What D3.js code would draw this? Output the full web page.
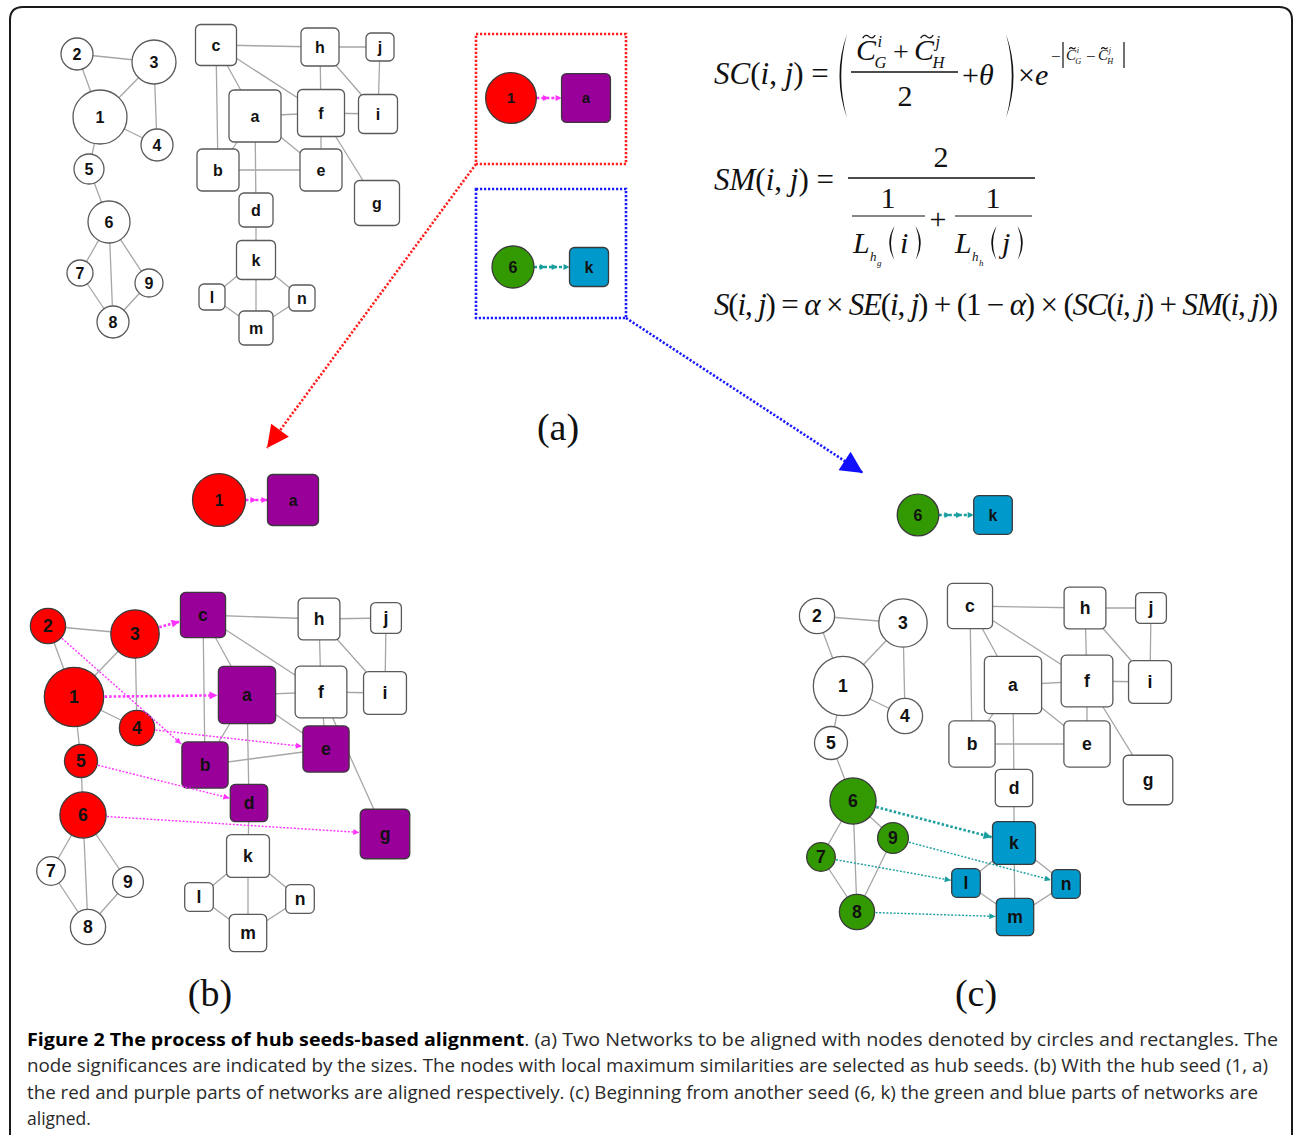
<!DOCTYPE html>
<html>
<head>
<meta charset="utf-8">
<script src="https://cdn.jsdelivr.net/npm/d3@7"></script>
<style>
  body { margin: 0; background: #fff; }
  svg { display: block; }
</style>
</head>
<body>
<svg id="fig" width="1293" height="1135"></svg>
<script>
// ---------- network data ----------
// network G: circular nodes, significance drives the radius
const circleIds = ["1", "2", "3", "4", "5", "6", "7", "8", "9"];
const circleSig = [27, 16, 22, 16, 15, 21, 13, 16, 14];
// network H: square nodes, significance drives the side length
const squareIds = ["a", "b", "c", "d", "e", "f", "g", "h", "i", "j", "k", "l", "m", "n"];
const squareSig = [52, 42, 41, 34, 42, 47, 45, 38, 39, 28, 39, 26, 34, 26];

const circleLinks = [["2","3"],["2","1"],["3","1"],["3","4"],["1","4"],["1","5"],
                     ["5","6"],["6","7"],["6","8"],["6","9"],["7","8"],["9","8"]];
const squareLinks = [["c","h"],["h","j"],["c","b"],["c","a"],["c","f"],["h","f"],["h","i"],
                     ["j","i"],["a","f"],["f","i"],["a","b"],["a","e"],["f","e"],["f","g"],
                     ["b","e"],["a","d"],["d","k"],["k","l"],["k","m"],["k","n"],["l","m"],["n","m"]];

// hub seeds and the alignments grown from them
const seedB = ["1", "a"];
const seedC = ["6", "k"];
const alignB = [["1","a"],["3","c"],["2","b"],["4","e"],["5","d"],["6","g"]];
const alignC = [["6","k"],["9","n"],["7","l"],["8","m"]];
const heavyAlign = ["1-a", "3-c", "6-k"];

// ---------- layouts (panel-local coordinates) ----------
const layoutA = [
  ["1",40,97],["2",17,34],["3",94,42],["4",97,125],["5",29,149],["6",49,202],["7",20,253],["8",53,302],["9",89,263],
  ["a",195,96],["b",158,150],["c",156,25],["d",196,190],["e",261,150],["f",261,93],["g",317,183],
  ["h",260,27],["i",318,94],["j",320,27],["k",196,240],["l",152,277],["m",196,308],["n",242,278]
];
const layoutB = [
  ["1",54,107],["2",28,36],["3",115,44],["4",117,138],["5",61,171],["6",63,225],["7",31,281],["8",68,337],["9",108,292],
  ["a",227,105],["b",185,175],["c",183,25],["d",229,213],["e",306,159],["f",301,102],["g",365,244],
  ["h",299,29],["i",365,103],["j",366,28],["k",228,266],["l",179,307],["m",228,343],["n",280,309]
];
const layoutC = [
  ["1",53,106],["2",27,36],["3",113,43],["4",115,136],["5",41,163],["6",63,221],["7",31,277],["8",67,332],["9",103,258],
  ["a",223,105],["b",182,164],["c",180,26],["d",224,208],["e",297,164],["f",297,101],["g",358,200],
  ["h",295,28],["i",360,102],["j",361,28],["k",224,263],["l",176,303],["m",225,337],["n",276,304]
];

// ---------- styling ----------
const COL = { red: "#ff0000", purple: "#990099", green: "#339900", blue: "#0099cc",
              pink: "#ff33ff", teal: "#1a9e9e", edge: "#a6a6a6", stroke: "#5a5a5a" };
const serif = "'Liberation Serif','Times New Roman',serif";
const sansBold = "'Liberation Sans',Arial,sans-serif";

const svg = d3.select("#fig");
const defs = svg.append("defs");

function marker(id, color, w, h) {
  defs.append("marker")
    .attr("id", id).attr("viewBox", "0 0 10 10")
    .attr("refX", 10).attr("refY", 5)
    .attr("markerWidth", w).attr("markerHeight", h)
    .attr("markerUnits", "userSpaceOnUse").attr("orient", "auto")
    .append("path").attr("d", "M0,0L10,5L0,10Z").attr("fill", color);
}
marker("arPink", COL.pink, 10, 8);
marker("arPinkS", COL.pink, 7, 6);
marker("arTeal", COL.teal, 10, 8);
marker("arTealS", COL.teal, 7, 6);
marker("arRed", COL.red, 24, 22);
marker("arBlue", "#1010ff", 24, 22);

// outer frame
svg.append("path")
  .attr("d", "M10,1135 V20 Q10,7 23,7 H1279 Q1292,7 1292,20 V1135")
  .attr("fill", "none").attr("stroke", "#1a1a1a").attr("stroke-width", 2);

const sigOf = new Map();
circleIds.forEach((id, i) => sigOf.set(id, { shape: "circle", sig: circleSig[i] }));
squareIds.forEach((id, i) => sigOf.set(id, { shape: "square", sig: squareSig[i] }));

// boundary point of a node (centre p, size s) in the direction of point q
function boundary(p, q, shape, s, gap) {
  const dx = q[0] - p[0], dy = q[1] - p[1];
  const L = Math.hypot(dx, dy), ux = dx / L, uy = dy / L;
  let t;
  if (shape === "circle") t = s;
  else t = (s / 2) / Math.max(Math.abs(ux), Math.abs(uy));
  t += gap;
  return [p[0] + ux * t, p[1] + uy * t];
}

function drawNodes(g, nodes, labelSize) {
  nodes.filter(d => d.shape === "circle").forEach(d => {
    g.append("circle").attr("cx", d.x).attr("cy", d.y).attr("r", d.size)
      .attr("fill", d.fill || "#fff")
      .attr("stroke", d.fill ? "#3a3a3a" : COL.stroke).attr("stroke-width", 1.3);
  });
  nodes.filter(d => d.shape === "square").forEach(d => {
    g.append("rect").attr("x", d.x - d.size / 2).attr("y", d.y - d.size / 2)
      .attr("width", d.size).attr("height", d.size).attr("rx", 5)
      .attr("fill", d.fill || "#fff")
      .attr("stroke", d.fill ? "#3a3a3a" : COL.stroke).attr("stroke-width", 1.3);
  });
  nodes.forEach(d => {
    g.append("text").attr("x", d.x).attr("y", d.y)
      .attr("text-anchor", "middle").attr("dy", "0.36em")
      .attr("font-family", sansBold).attr("font-weight", "bold")
      .attr("font-size", labelSize).attr("fill", "#111").text(d.id);
  });
}

// full network panel
function drawPanel(layout, origin, factor, colour, align, alignColour) {
  const g = svg.append("g");
  const x = d3.scaleLinear().domain([0, 400]).range([origin[0], origin[0] + 400]);
  const y = d3.scaleLinear().domain([0, 400]).range([origin[1], origin[1] + 400]);
  const size = d3.scaleLinear().domain([0, 60]).range([0, 60 * factor]);
  const nodes = layout.map(([id, lx, ly]) => {
    const info = sigOf.get(id);
    return { id, x: x(lx), y: y(ly), shape: info.shape,
             size: size(info.sig), fill: colour ? colour(id) : null };
  });
  const byId = new Map(nodes.map(d => [d.id, d]));
  circleLinks.concat(squareLinks).forEach(([s, t]) => {
    const a = byId.get(s), b = byId.get(t);
    g.append("line").attr("x1", a.x).attr("y1", a.y).attr("x2", b.x).attr("y2", b.y)
      .attr("stroke", COL.edge).attr("stroke-width", 1.3);
  });
  drawNodes(g, nodes, 16 * factor);
  if (align) {
    align.forEach(([s, t]) => {
      const a = byId.get(s), b = byId.get(t);
      const heavy = heavyAlign.includes(s + "-" + t);
      const p0 = boundary([a.x, a.y], [b.x, b.y], "circle", a.size, 1);
      const p1 = boundary([b.x, b.y], [a.x, a.y], "square", b.size, 1);
      const mk = alignColour === COL.pink ? (heavy ? "arPink" : "arPinkS") : (heavy ? "arTeal" : "arTealS");
      g.append("line").attr("x1", p0[0]).attr("y1", p0[1]).attr("x2", p1[0]).attr("y2", p1[1])
        .attr("stroke", alignColour).attr("stroke-width", heavy ? 2.6 : 1.4)
        .attr("stroke-dasharray", heavy ? "2.5,2" : "2,1.6")
        .attr("marker-end", `url(#${mk})`);
    });
  }
  return g;
}

// seed pair: circle node, square node and an arrowed dashed link
function drawSeed(pair, centres, factor, fills, linkColour, markerId) {
  const g = svg.append("g");
  const size = d3.scaleLinear().domain([0, 60]).range([0, 60 * factor]);
  const nodes = pair.map((id, i) => ({ id, x: centres[i][0], y: centres[i][1],
    shape: sigOf.get(id).shape, size: size(sigOf.get(id).sig), fill: fills[i] }));
  const [a, b] = nodes;
  const p0 = boundary([a.x, a.y], [b.x, b.y], "circle", a.size, 0);
  const p1 = boundary([b.x, b.y], [a.x, a.y], "square", b.size, 0);
  const n = Math.max(1, Math.round((p1[0] - p0[0]) / 11));
  const pts = d3.range(n + 1).map(i => [p0[0] + (p1[0] - p0[0]) * i / n, p0[1]]);
  g.append("path").attr("d", d3.line()(pts)).attr("fill", "none")
    .attr("stroke", linkColour).attr("stroke-width", 2.6).attr("stroke-dasharray", "3,2")
    .attr("marker-mid", `url(#${markerId})`).attr("marker-end", `url(#${markerId})`);
  drawNodes(g, nodes, 16 * factor);
}

// ---------- panel (a): the two networks ----------
drawPanel(layoutA, [60, 20], 1.0, null, null, null);

// hub seed boxes
const hubBoxes = [
  { rect: [476, 34, 150, 130], colour: "#ff2020", seed: seedB, centres: [[511, 98], [586, 98]],
    fills: [COL.red, COL.purple], link: COL.pink, mk: "arPinkS",
    pointer: [[476, 164], [267, 448]], arrow: "arRed" },
  { rect: [476, 189, 150, 129], colour: "#1a1aff", seed: seedC, centres: [[513, 267], [589, 267]],
    fills: [COL.green, COL.blue], link: COL.teal, mk: "arTealS",
    pointer: [[626, 318], [863, 473]], arrow: "arBlue" }
];
hubBoxes.forEach(b => {
  svg.append("rect").attr("x", b.rect[0]).attr("y", b.rect[1])
    .attr("width", b.rect[2]).attr("height", b.rect[3])
    .attr("fill", "none").attr("stroke", b.colour).attr("stroke-width", 2.6)
    .attr("stroke-dasharray", "2.2,1.8");
  svg.append("line").attr("x1", b.pointer[0][0]).attr("y1", b.pointer[0][1])
    .attr("x2", b.pointer[1][0]).attr("y2", b.pointer[1][1])
    .attr("stroke", b.colour).attr("stroke-width", 2.6).attr("stroke-dasharray", "2.2,1.8")
    .attr("marker-end", `url(#${b.arrow})`);
  drawSeed(b.seed, b.centres, b.seed[0] === "1" ? 0.94 : 1.0, b.fills, b.link, b.mk);
});

// seeds carried down to panels (b) and (c)
drawSeed(seedB, [[219, 500], [293, 500]], 0.98, [COL.red, COL.purple], COL.pink, "arPinkS");
drawSeed(seedC, [[918, 515], [993, 515]], 0.99, [COL.green, COL.blue], COL.teal, "arTealS");

// ---------- panel (b) ----------
const redSet = new Set(alignB.map(d => d[0]));
const purpleSet = new Set(alignB.map(d => d[1]));
drawPanel(layoutB, [20, 590], 1.1,
  id => redSet.has(id) ? COL.red : purpleSet.has(id) ? COL.purple : null,
  alignB, COL.pink);

// ---------- panel (c) ----------
const greenSet = new Set(alignC.map(d => d[0]));
const blueSet = new Set(alignC.map(d => d[1]));
drawPanel(layoutC, [790, 580], 1.1,
  id => greenSet.has(id) ? COL.green : blueSet.has(id) ? COL.blue : null,
  alignC, COL.teal);

// ---------- panel labels ----------
[["(a)", 558, 440], ["(b)", 210, 1006], ["(c)", 976, 1006]].forEach(([t, x, y]) => {
  svg.append("text").attr("x", x).attr("y", y).attr("text-anchor", "middle")
    .attr("font-family", serif).attr("font-size", 38).attr("fill", "#111").text(t);
});

// ---------- formulas ----------
const F = svg.append("g").attr("font-family", serif).attr("fill", "#111");

function run(x, y, fs, parts, opts = {}) {
  const t = F.append("text").attr("x", x).attr("y", y).attr("font-size", fs);
  if (opts.anchor) t.attr("text-anchor", opts.anchor);
  parts.forEach(p => {
    const it = Array.isArray(p);
    t.append("tspan").attr("font-style", it ? "italic" : null).text(it ? p[0] : p);
  });
  return t;
}
function bar(x1, x2, y, w) {
  F.append("line").attr("x1", x1).attr("x2", x2).attr("y1", y).attr("y2", y)
    .attr("stroke", "#111").attr("stroke-width", w || 1.5);
}
function paren(x, y0, y1, left, w) {
  const ym = (y0 + y1) / 2, b = w || 9, s = left ? 1 : -1;
  F.append("path").attr("d",
    `M${x + s * b / 2},${y0} Q${x - s * b},${ym} ${x + s * b / 2},${y1} Q${x - s * (b - 3.5)},${ym} ${x + s * b / 2},${y0}Z`);
}
function tilde(x, y, w) {
  const h = w / 4;
  F.append("path").attr("d", `M${x},${y + h / 2} Q${x + w / 4},${y - h} ${x + w / 2},${y} T${x + w},${y - h / 2}`)
    .attr("fill", "none").attr("stroke", "#111").attr("stroke-width", 1.3);
}
// C with a tilde, superscript and subscript
function cTilde(x, y, fs, sup, sub) {
  run(x, y, fs, [["C"]]);
  tilde(x + fs * 0.22, y - fs * 0.78, fs * 0.42);
  run(x + fs * 0.72, y - fs * 0.45, fs * 0.55, [[sup]]);
  run(x + fs * 0.62, y + fs * 0.28, fs * 0.55, [[sub]]);
}

// SC(i, j)
run(714, 84, 31, [["SC"], "(", ["i"], ", ", ["j"], ") ="]);
paren(842, 34, 118, true, 10);
cTilde(856, 60, 30, "i", "G");
run(893, 61, 28, ["+"]);
cTilde(914, 60, 30, "j", "H");
bar(851, 958, 72);
run(905, 106, 30, ["2"], { anchor: "middle" });
run(962, 85, 30, ["+", ["θ"]]);
paren(1011, 34, 118, false, 10);
run(1018, 85, 30, ["×", ["e"]]);
run(1051, 62, 17, ["−"]);
F.append("line").attr("x1", 1063).attr("x2", 1063).attr("y1", 42).attr("y2", 68).attr("stroke", "#111").attr("stroke-width", 1.2);
cTilde(1066, 60, 15, "i", "G");
run(1086, 62, 17, ["−"]);
cTilde(1098, 60, 15, "j", "H");
F.append("line").attr("x1", 1124).attr("x2", 1124).attr("y1", 42).attr("y2", 68).attr("stroke", "#111").attr("stroke-width", 1.2);

// SM(i, j)
run(714, 190, 31, [["SM"], "(", ["i"], ", ", ["j"], ") ="]);
run(941, 167, 30, ["2"], { anchor: "middle" });
bar(848, 1035, 178);
run(888, 208, 30, ["1"], { anchor: "middle" });
bar(852, 925, 216, 1.2);
run(938, 229, 30, ["+"], { anchor: "middle" });
run(993, 208, 30, ["1"], { anchor: "middle" });
bar(955, 1032, 216, 1.2);
[[853, "i", "g"], [955, "j", "h"]].forEach(([x0, arg, hs]) => {
  run(x0, 253, 30, [["L"]]);
  run(x0 + 17, 261, 13, [["h"]]);
  run(x0 + 24, 266, 9, [[hs]]);
  paren(x0 + 38, 226, 260, true, 7);
  run(x0 + 47, 253, 30, [[arg]]);
  paren(x0 + 66, 226, 260, false, 7);
});

// S(i, j)
run(714, 315, 31,
  [["S"], "(", ["i"], ", ", ["j"], ") = ", ["α"], " × ", ["SE"], "(", ["i"], ", ", ["j"], ") + (1 − ",
   ["α"], ") × (", ["SC"], "(", ["i"], ", ", ["j"], ") + ", ["SM"], "(", ["i"], ", ", ["j"], "))"])
  .attr("textLength", 564).attr("lengthAdjust", "spacing");

// ---------- caption ----------
const captionLines = [
  [["Figure 2 The process of hub seeds-based alignment", true],
   [". (a) Two Networks to be aligned with nodes denoted by circles and rectangles. The", false]],
  [["node significances are indicated by the sizes. The nodes with local maximum similarities are selected as hub seeds. (b) With the hub seed (1, a)", false]],
  [["the red and purple parts of networks are aligned respectively. (c) Beginning from another seed (6, k) the green and blue parts of networks are", false]],
  [["aligned.", false]]
];
const captionWidths = [1251, 1241, 1231, null];
const cap = svg.append("g").attr("font-family", "'Open Sans','Noto Sans',sans-serif");
captionLines.forEach((parts, i) => {
  const t = cap.append("text").attr("x", 27).attr("y", 1046 + i * 26.4).attr("font-size", 17.5);
  parts.forEach(([s, b]) => t.append("tspan")
    .attr("font-weight", b ? "bold" : null).attr("fill", b ? "#000" : "#2a2a2a").text(s));
  if (captionWidths[i]) t.attr("textLength", captionWidths[i]).attr("lengthAdjust", "spacingAndGlyphs");
});
</script>
</body>
</html>
